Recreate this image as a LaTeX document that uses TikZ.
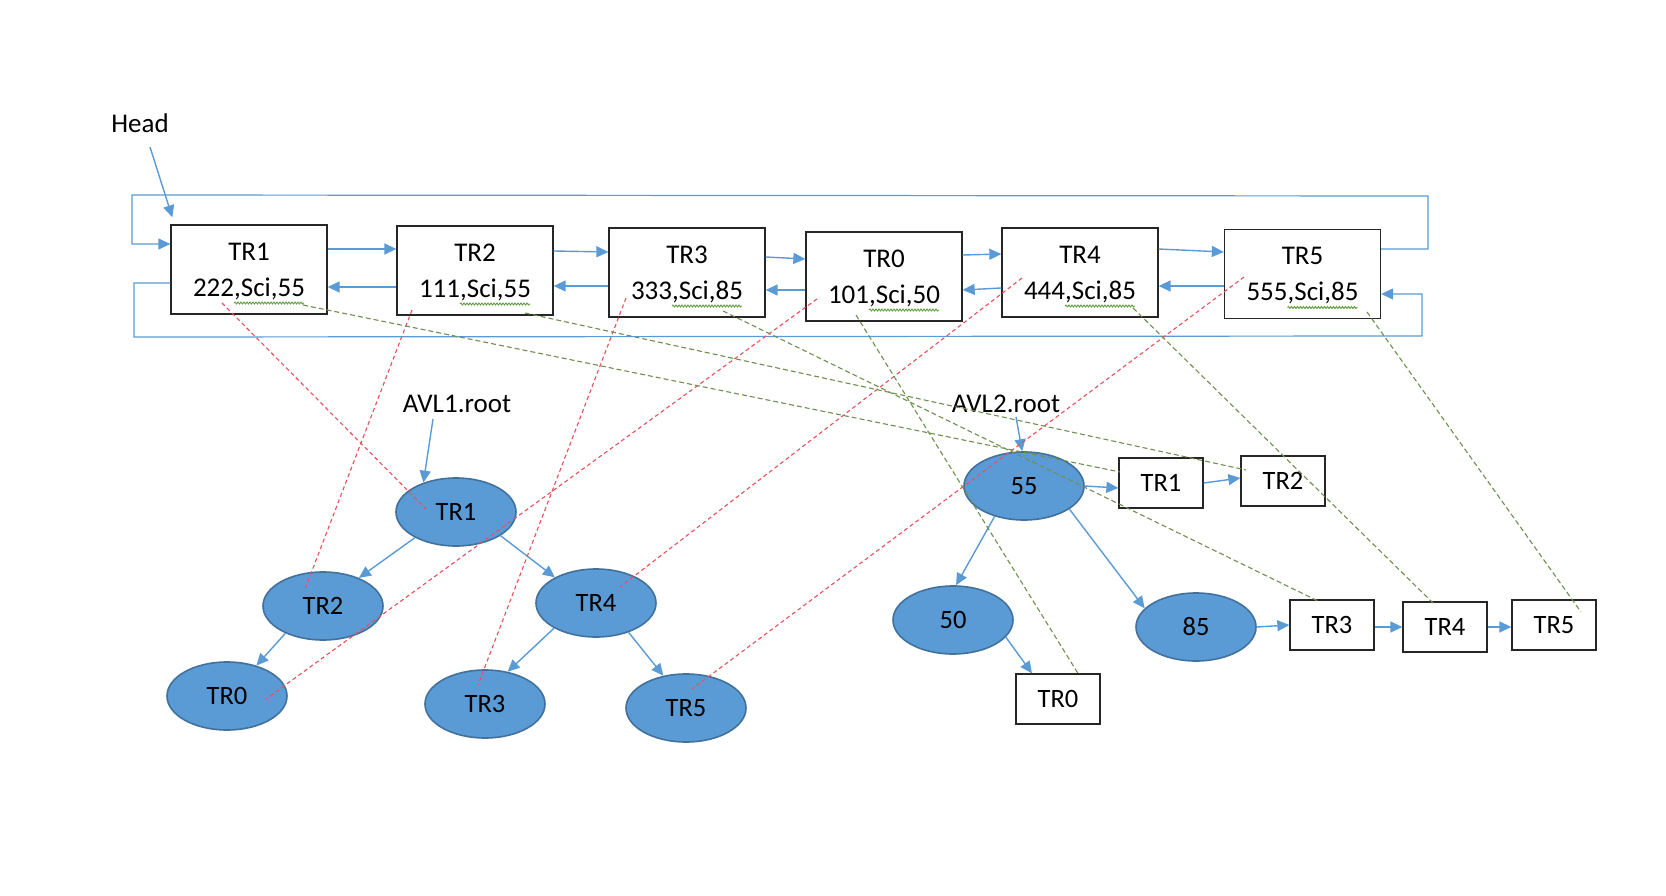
\documentclass[tikz,border=0pt]{standalone}
\usepackage{fontspec}
\setmainfont{Carlito}
\usetikzlibrary{arrows.meta,shapes.geometric,decorations.pathmorphing}
\definecolor{abl}{HTML}{5B9BD5}
\definecolor{ebd}{HTML}{41719C}
\definecolor{rdash}{HTML}{E8505B}
\definecolor{gdash}{HTML}{6F8F4E}
\definecolor{sqc}{HTML}{5E9E3A}
\newcommand{\hstrut}{\rule{0pt}{20.5pt}}
\begin{document}
\begin{tikzpicture}[x=1pt,y=-1pt,
 lbox/.style={draw=black!85,line width=1.3pt,minimum width=156pt,minimum height=89pt,align=center,inner sep=0pt,font=\fontsize{27}{36}\selectfont},
 sbox/.style={draw=black!85,line width=1.3pt,minimum width=84pt,minimum height=50pt,inner sep=0pt,font=\fontsize{26.5}{30}\selectfont},
 avl/.style={ellipse,draw=ebd,line width=1.6pt,fill=abl,minimum width=120pt,minimum height=68pt,inner sep=0pt,font=\fontsize{26.5}{30}\selectfont},
 lbl/.style={font=\fontsize{27}{30}\selectfont,inner sep=0pt,anchor=base},
 tipa/.tip={Triangle[length=12pt,width=11pt]},
 arr/.style={draw=abl,line width=1.4pt,-tipa},
 loopl/.style={draw=abl,line width=1.2pt},
 rd/.style={draw=rdash,line width=1.1pt,dash pattern=on 4pt off 3pt},
 gd/.style={draw=gdash,line width=1.1pt,dash pattern=on 5pt off 3pt},
 squig/.style={draw=sqc,line width=0.9pt,decorate,decoration={snake,amplitude=1pt,segment length=3pt}}]
\fill[white] (0,0) rectangle (1666,896);
\useasboundingbox (0,0) rectangle (1666,896);

% linked list
\node[lbl] (head) at (140,133) {Head};
\node[lbox] (L1) at (249,269.5) {\hstrut TR1\\222,Sci,55};
\node[lbox] (L2) at (475,270.5) {\hstrut TR2\\111,Sci,55};
\node[lbox] (L3) at (687,272.5) {\hstrut TR3\\333,Sci,85};
\node[lbox] (L0) at (884,276.5) {\hstrut TR0\\101,Sci,50};
\node[lbox] (L4) at (1080,272.5) {\hstrut TR4\\444,Sci,85};
\node[lbox] (L5) at (1302.5,274) {\hstrut TR5\\555,Sci,85};
\foreach \n in {L1,L2,L3,L0,L4,L5}
  \draw[squig] ([xshift=-15pt,yshift=-33.5pt]\n.center) -- ([xshift=55pt,yshift=-33.5pt]\n.center);

\draw[arr] ([xshift=10pt,yshift=-14pt]head.base) -- ([shift={(2pt,7pt)}]L1.north west);

\draw[arr] ([yshift=20.5pt]L1.east) -- ([yshift=21.5pt]L2.west);
\draw[arr] ([yshift=19.5pt]L2.east) -- ([yshift=20.5pt]L3.west);
\draw[arr] ([yshift=15.5pt]L3.east) -- ([yshift=17.5pt]L0.west);
\draw[arr] ([yshift=21.5pt]L0.east) -- ([yshift=18.5pt]L4.west);
\draw[arr] ([yshift=23.5pt]L4.east) -- ([yshift=22pt]L5.west);
\draw[arr] ([yshift=-16.5pt]L2.west) -- ([yshift=-17.5pt]L1.east);
\draw[arr] ([yshift=-13.5pt]L3.west) -- ([yshift=-15.5pt]L2.east);
\draw[arr] ([yshift=-13.5pt]L0.west) -- ([yshift=-17.5pt]L3.east);
\draw[arr] ([yshift=-15.5pt]L4.west) -- ([yshift=-13.5pt]L0.east);
\draw[arr] ([yshift=-12pt]L5.west) -- ([yshift=-13.5pt]L4.east);

\coordinate (t1) at (1428,249);
\coordinate (t2) at (1428,196);
\coordinate (t3) at (132,195);
\coordinate (t4) at (132,244);
\draw[loopl,-tipa] ([yshift=25pt]L5.east) -- (t1) -- (t2) -- (t3) -- (t4) -- ([yshift=25.5pt]L1.west);
\coordinate (b1) at (134,283);
\coordinate (b2) at (134,337);
\coordinate (b3) at (1422,336);
\coordinate (b4) at (1422,294);
\draw[loopl,-tipa] ([yshift=-13.5pt]L1.west) -- (b1) -- (b2) -- (b3) -- (b4) -- ([yshift=-20pt]L5.east);

% AVL1
\node[lbl] (r1) at (457,412) {AVL1.root};
\node[avl] (T1) at (456,512) {TR1};
\node[avl] (T2) at (323,606) {TR2};
\node[avl] (T4) at (596,603) {TR4};
\node[avl] (T0) at (227,696) {TR0};
\node[avl] (T3) at (485,704) {TR3};
\node[avl] (T5) at (686,708) {TR5};
\draw[arr] ([xshift=-24pt,yshift=-7pt]r1.base) -- (T1.138);
\draw[arr] (T1.212) -- (T2.38);
\draw[arr] (T1.-28) -- (T4.148);
\draw[arr] (T2.216) -- (T0.46);
\draw[arr] (T4.211) -- (T3.55);
\draw[arr] (T4.-42) -- (T5.125);

% AVL2
\node[lbl] (r2) at (1006,412) {AVL2.root};
\node[avl] (E55) at (1024,486) {55};
\node[avl] (E50) at (953,620) {50};
\node[avl] (E85) at (1196,627) {85};
\node[sbox] (S1) at (1161,483) {TR1};
\node[sbox] (S2) at (1283,481) {TR2};
\node[sbox] (S3) at (1332,625) {TR3};
\node[sbox] (S4) at (1445,627) {TR4};
\node[sbox] (S5) at (1554,625) {TR5};
\node[sbox] (S0) at (1058,699) {TR0};
\draw[arr] ([xshift=10pt,yshift=-5pt]r2.base) -- (E55.93);
\draw[arr] (E55.east) -- ([yshift=-5pt]S1.west);
\draw[arr] (S1.east) -- ([yshift=3pt]S2.west);
\draw[arr] (E55.226) -- (E50.85);
\draw[arr] (E55.-27) -- (E85.160);
\draw[arr] (E50.-18) -- ([xshift=-26pt]S0.north);
\draw[arr] (E85.east) -- (S3.west);
\draw[arr] ([yshift=-2pt]S3.east) -- (S4.west);
\draw[arr] (S4.east) -- ([yshift=-2pt]S5.west);

% red dashed links
\draw[rd] ([xshift=-27pt,yshift=-33.5pt]L1.center) -- ([xshift=-30pt,yshift=3pt]T1.center);
\draw[rd] ([xshift=-63pt,yshift=-39.5pt]L2.center) -- ([xshift=-18pt,yshift=17pt]T2.center);
\draw[rd] ([xshift=-61pt,yshift=-25.5pt]L3.center) -- ([xshift=-7pt,yshift=19pt]T3.center);
\draw[rd] ([xshift=-67pt,yshift=-22.5pt]L0.center) -- ([xshift=39pt,yshift=-3pt]T0.center);
\draw[rd] ([xshift=-58pt,yshift=-5.5pt]L4.center) -- ([xshift=24pt,yshift=16pt]T4.center);
\draw[rd] ([xshift=-58.5pt,yshift=-3pt]L5.center) -- ([xshift=6pt,yshift=19pt]T5.center);

% green dashed links
\draw[gd] ([xshift=54pt,yshift=-35.5pt]L1.center) -- ([xshift=-41pt,yshift=11pt]S1.center);
\draw[gd] ([xshift=50pt,yshift=-42.5pt]L2.center) -- ([xshift=-37pt,yshift=11pt]S2.center);
\draw[gd] ([xshift=36pt,yshift=-38.5pt]L3.center) -- ([xshift=-14pt,yshift=24pt]S3.center);
\draw[gd] ([xshift=-28pt,yshift=-38.5pt]L0.center) -- ([xshift=21pt,yshift=24pt]S0.center);
\draw[gd] ([xshift=53pt,yshift=-35.5pt]L4.center) -- ([xshift=-12pt,yshift=24pt]S4.center);
\draw[gd] ([xshift=64.5pt,yshift=-38pt]L5.center) -- ([xshift=27pt,yshift=13pt]S5.center);
\end{tikzpicture}
\end{document}
